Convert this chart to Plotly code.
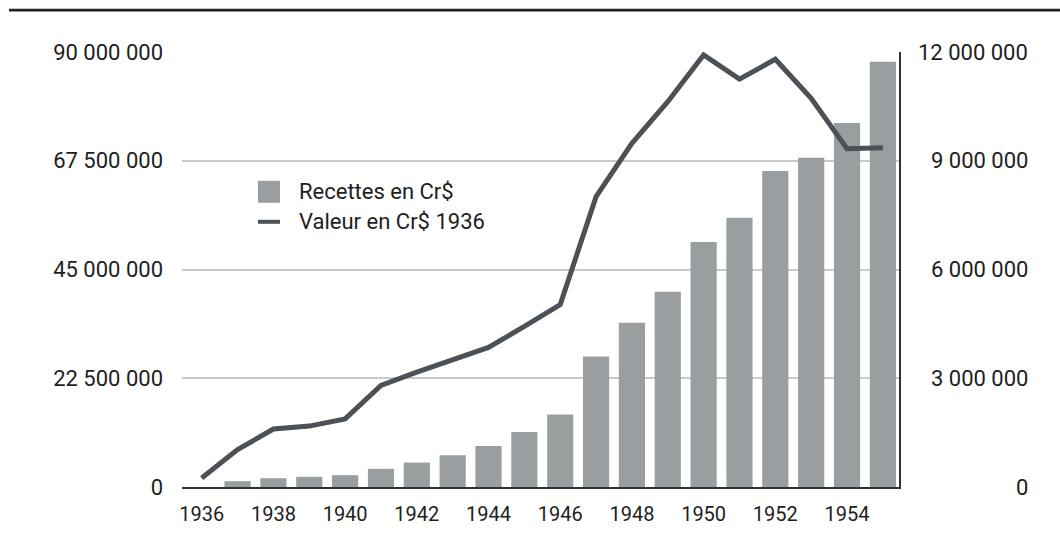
import plotly.graph_objects as go

years = list(range(1936, 1956))
recettes = [None, 1200000, 1820000, 2100000, 2440000, 3760000, 5060000, 6570000, 8500000,
            11400000, 15000000, 27000000, 34000000, 40400000, 50700000, 55700000,
            65400000, 68100000, 75300000, 88000000]
valeur_1936 = [250000, 1030000, 1600000, 1680000, 1880000, 2800000, 3170000, 3510000,
               3850000, 4430000, 5030000, 8010000, 9480000, 10630000, 11920000,
               11250000, 11800000, 10720000, 9330000, 9360000]

left_ticks = [0, 22500000, 45000000, 67500000, 90000000]
left_labels = ["0", "22 500 000", "45 000 000", "67 500 000", "90 000 000"]
right_ticks = [0, 3000000, 6000000, 9000000, 12000000]
right_labels = ["0", "3 000 000", "6 000 000", "9 000 000", "12 000 000"]
x_ticks = list(range(1936, 1956, 2))
legend_names = ["Recettes en Cr$", "Valeur en Cr$ 1936"]

BAR_COLOR = "#999fa0"
LINE_COLOR = "#4b5157"
TEXT_COLOR = "#1e1e1e"
FONT = "Roboto"

W, H = 1060, 544
L, R, T, B = 182, 161, 52, 56.5
pw, ph = W - L - R, H - T - B


def px_x(x):
    return (x - L) / pw


def px_y(y):
    return (H - B - y) / ph


fig = go.Figure()
fig.add_trace(go.Bar(x=years, y=recettes, name=legend_names[0], marker_color=BAR_COLOR,
                     marker_line_width=0, showlegend=False, yaxis="y"))
fig.add_trace(go.Scatter(x=years, y=valeur_1936, name=legend_names[1], mode="lines",
                         line=dict(color=LINE_COLOR, width=5), showlegend=False, yaxis="y2"))

fig.update_layout(
    width=W, height=H,
    margin=dict(l=L, r=R, t=T, b=B, pad=0),
    paper_bgcolor="white", plot_bgcolor="white",
    bargap=0.27,
    font=dict(family=FONT, size=20, color=TEXT_COLOR),
    xaxis=dict(range=[1935.45, 1955.45], tickvals=x_ticks, ticktext=[str(v) for v in x_ticks],
               showgrid=False, zeroline=False, showline=True, linecolor="#2f3336", linewidth=1.5,
               ticks="", ticklabelstandoff=8, tickfont=dict(size=20, color=TEXT_COLOR)),
    yaxis=dict(range=[0, 90000000], tickvals=left_ticks, ticktext=left_labels,
               showgrid=True, gridcolor="#c9c9c9", gridwidth=1.5, zeroline=False,
               showline=False, ticks="", ticklabelstandoff=18,
               tickfont=dict(size=22, color=TEXT_COLOR)),
    yaxis2=dict(range=[0, 12000000], overlaying="y", side="right", tickvals=right_ticks,
                showticklabels=False, showgrid=False, zeroline=False, showline=True,
                linecolor="#2f3336", linewidth=1.5, ticks=""),
)

# right axis labels, right-aligned as in the reference
for v, lab in zip(right_ticks, right_labels):
    fig.add_annotation(xref="paper", yref="y2", x=px_x(1030), y=v, text=lab,
                       showarrow=False, xanchor="right", yanchor="middle",
                       font=dict(size=22, color=TEXT_COLOR))

# top rule
fig.add_shape(type="line", xref="paper", yref="paper", x0=px_x(9), x1=px_x(1060),
              y0=px_y(10), y1=px_y(10), line=dict(color="#222222", width=2.7))

# legend
fig.add_shape(type="rect", xref="paper", yref="paper", x0=px_x(258), x1=px_x(280),
              y0=px_y(203), y1=px_y(181), fillcolor=BAR_COLOR, line=dict(width=0))
fig.add_shape(type="line", xref="paper", yref="paper", x0=px_x(258), x1=px_x(280),
              y0=px_y(222), y1=px_y(222), line=dict(color=LINE_COLOR, width=4))
fig.add_annotation(xref="paper", yref="paper", x=px_x(297), y=px_y(192), text=legend_names[0],
                   showarrow=False, xanchor="left", yanchor="middle",
                   font=dict(size=22, color=TEXT_COLOR))
fig.add_annotation(xref="paper", yref="paper", x=px_x(297), y=px_y(222), text=legend_names[1],
                   showarrow=False, xanchor="left", yanchor="middle",
                   font=dict(size=22, color=TEXT_COLOR))

fig.write_html("out.html",
               config={"displayModeBar": False},
               post_script="document.body.style.margin='0';document.body.style.overflow='hidden';")
